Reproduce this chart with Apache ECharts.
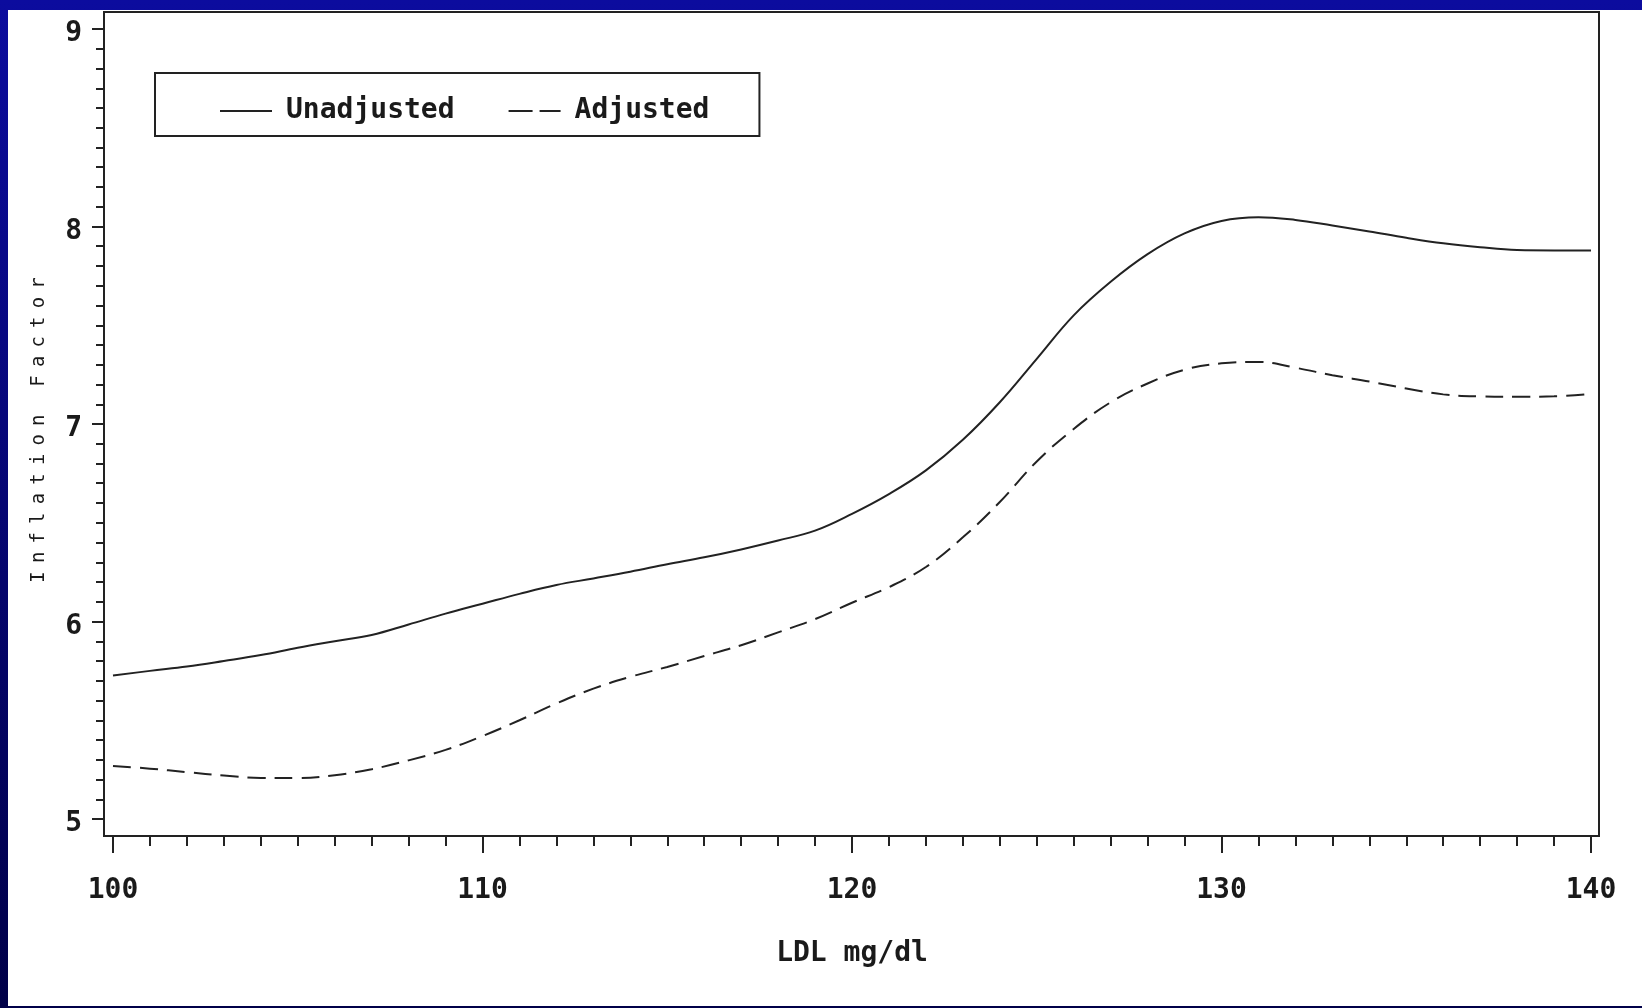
<!DOCTYPE html>
<html>
<head>
<meta charset="utf-8">
<script src="https://cdn.jsdelivr.net/npm/echarts@6/dist/echarts.min.js"></script>
<style>
  html, body { margin: 0; padding: 0; background: #00006a; }
  #chart { width: 1642px; height: 1008px; }
</style>
</head>
<body>
<div id="chart"></div>
<script>
// LDL mg/dl (x values)
const ldl = [100,101,102,103,104,105,106,107,108,109,110,111,112,113,114,115,116,117,118,119,120,
             121,122,123,124,125,126,127,128,129,130,131,132,133,134,135,136,137,138,139,140];
// Inflation factor, unadjusted
const unadjusted = [5.726,5.750,5.772,5.800,5.830,5.867,5.900,5.932,5.985,6.040,6.090,
                    6.140,6.185,6.218,6.252,6.290,6.325,6.365,6.410,6.460,6.545,
                    6.645,6.765,6.920,7.110,7.330,7.550,7.720,7.860,7.965,8.028,
                    8.047,8.033,8.005,7.975,7.943,7.915,7.895,7.881,7.879,7.879];
// Inflation factor, adjusted
const adjusted = [5.268,5.255,5.237,5.220,5.208,5.207,5.222,5.252,5.297,5.350,5.420,
                  5.500,5.585,5.660,5.720,5.770,5.825,5.880,5.945,6.012,6.095,
                  6.174,6.276,6.426,6.605,6.810,6.975,7.110,7.205,7.275,7.307,
                  7.314,7.285,7.247,7.215,7.180,7.150,7.140,7.138,7.140,7.152];
const seriesNames = ['Unadjusted', 'Adjusted'];
const xTitle = 'LDL mg/dl';
const yTitle = 'Inflation Factor';

const pairs = (ys) => ldl.map((x, i) => [x, ys[i]]);
// spaced-out y title, one rich fragment per character
const spacedTitle = yTitle.split('').map(c => '{c|' + (c === ' ' ? '\u00a0' : c) + '}').join('');

const chart = echarts.init(document.getElementById('chart'), null, { renderer: 'canvas' });
const FONT = 'DejaVu Sans Mono';
const INK = '#1a1a1a';
const DASH = [18, 9];

chart.setOption({
  animation: false,
  backgroundColor: new echarts.graphic.LinearGradient(0, 0, 0, 1, [
    { offset: 0, color: '#0c0c9e' },
    { offset: 1, color: '#000048' }
  ]),
  graphic: [
    { type: 'rect', z: -10, shape: { x: 8, y: 10, width: 1634, height: 996 }, style: { fill: '#ffffff' } },
    { type: 'rect', z: 10, shape: { x: 104, y: 12, width: 1495, height: 824 },
      style: { fill: 'none', stroke: '#222', lineWidth: 2 } }
  ],
  grid: { left: 113, right: 51, top: 29, bottom: 189 },
  legend: {
    left: 155, top: 73,
    padding: [24, 50, 11, 64],
    borderColor: '#222', borderWidth: 2,
    backgroundColor: '#fff',
    itemWidth: 52, itemHeight: 2, itemGap: 53,
    itemStyle: { color: 'rgba(0,0,0,0)', borderColor: 'rgba(0,0,0,0)', borderWidth: 0, opacity: 0 },
    textStyle: { fontFamily: FONT, fontWeight: 'bold', fontSize: 28, color: INK, padding: [0, 0, 0, 9] },
    data: [
      { name: seriesNames[0], lineStyle: { type: 'solid', width: 2, color: '#222' } },
      { name: seriesNames[1], lineStyle: { type: [24, 7], width: 2, color: '#222' } }
    ]
  },
  xAxis: {
    type: 'value', min: 100, max: 140, interval: 10,
    offset: 17,
    name: xTitle, nameLocation: 'middle', nameGap: 104,
    nameTextStyle: { fontFamily: FONT, fontWeight: 'bold', fontSize: 28, color: INK },
    axisLine: { show: false },
    axisTick: { show: true, length: 17, lineStyle: { color: '#222', width: 2 } },
    minorTick: { show: true, splitNumber: 10, length: 10, lineStyle: { color: '#222', width: 2 } },
    splitLine: { show: false },
    axisLabel: { fontFamily: FONT, fontWeight: 'bold', fontSize: 28, color: INK, margin: 41 }
  },
  yAxis: {
    type: 'value', min: 5, max: 9, interval: 1,
    offset: 9,
    name: spacedTitle, nameLocation: 'middle', nameGap: 55, nameRotate: 90,
    nameTextStyle: {
      fontFamily: FONT, fontWeight: 'normal', fontSize: 19, color: '#1a1a1a',
      padding: [0, 12, 0, 0],
      rich: { c: { fontFamily: FONT, fontSize: 19, color: '#1a1a1a', width: 19.6, align: 'center' } }
    },
    axisLine: { show: false },
    axisTick: { show: true, length: 12, lineStyle: { color: '#222', width: 2 } },
    minorTick: { show: true, splitNumber: 10, length: 8, lineStyle: { color: '#222', width: 2 } },
    splitLine: { show: false },
    axisLabel: { fontFamily: FONT, fontWeight: 'bold', fontSize: 28, color: INK, margin: 22,
                 verticalAlign: 'top', lineHeight: 10 }
  },
  series: [
    {
      name: seriesNames[0], type: 'line', data: pairs(unadjusted),
      smooth: 0.4, symbol: 'none',
      lineStyle: { color: '#222', width: 2, type: 'solid' },
      itemStyle: { color: '#222' }
    },
    {
      name: seriesNames[1], type: 'line', data: pairs(adjusted),
      smooth: 0.4, symbol: 'none',
      lineStyle: { color: '#222', width: 2, type: DASH },
      itemStyle: { color: '#222' }
    }
  ]
});
</script>
</body>
</html>
